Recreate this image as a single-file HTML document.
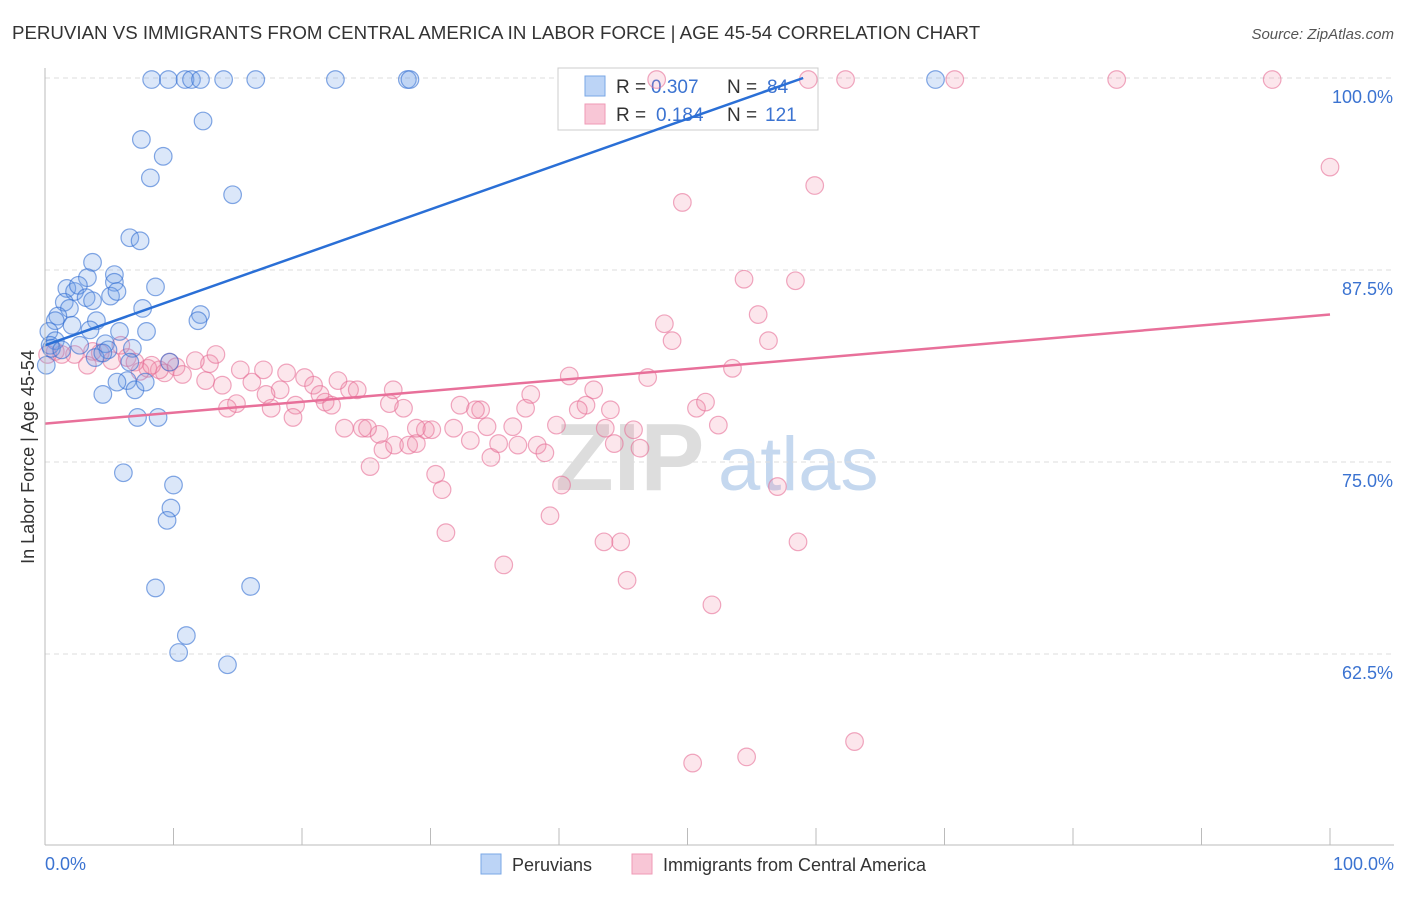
<!DOCTYPE html>
<html><head><meta charset="utf-8"><style>
body{margin:0;background:#fff;font-family:"Liberation Sans",sans-serif;}
svg text{font-family:"Liberation Sans",sans-serif;}
</style></head><body>
<svg width="1406" height="892" id="chart">
<text x="12" y="39" font-size="18.7" fill="#333">PERUVIAN VS IMMIGRANTS FROM CENTRAL AMERICA IN LABOR FORCE | AGE 45-54 CORRELATION CHART</text>
<text x="1394" y="39" font-size="15" fill="#555" text-anchor="end" font-style="italic">Source: ZipAtlas.com</text>
<text x="34" y="457" font-size="18" fill="#333" text-anchor="middle" transform="rotate(-90 34 457)">In Labor Force | Age 45-54</text>
<g><text x="555" y="490" font-size="96" font-family="Liberation Serif" fill="#ddd" font-weight="bold">ZIP</text><text x="718" y="490" font-size="76" fill="#c5d8ef">atlas</text></g>
<g id="grid"></g>
<g>
<rect x="558" y="68" width="260" height="62" fill="#fff" stroke="#ccc"/>
<rect x="585" y="76" width="20" height="20" fill="#bcd4f6" stroke="#7aa7e6"/>
<rect x="585" y="104" width="20" height="20" fill="#f8c6d6" stroke="#ef9ab6"/>
<text x="616" y="93" font-size="19" fill="#333">R =</text><text x="651" y="93" font-size="19" fill="#3b73d1">0.307</text>
<text x="727" y="93" font-size="19" fill="#333">N =</text><text x="767" y="93" font-size="19" fill="#3b73d1">84</text>
<text x="616" y="121" font-size="19" fill="#333">R =</text><text x="656" y="121" font-size="19" fill="#3b73d1">0.184</text>
<text x="727" y="121" font-size="19" fill="#333">N =</text><text x="765" y="121" font-size="19" fill="#3b73d1">121</text>
</g>
<g id="marks"></g><g id="lines"></g>
<line x1="45" y1="68" x2="45" y2="845" stroke="#bbb"/>
<line x1="45" y1="845" x2="1394" y2="845" stroke="#bbb"/>
<text x="45" y="870" font-size="18" fill="#3b73d1">0.0%</text>
<text x="1394" y="870" font-size="18" fill="#3b73d1" text-anchor="end">100.0%</text>
<g>
<rect x="481" y="854" width="20" height="20" fill="#bcd4f6" stroke="#7aa7e6"/>
<text x="512" y="871" font-size="18" fill="#333">Peruvians</text>
<rect x="632" y="854" width="20" height="20" fill="#f8c6d6" stroke="#ef9ab6"/>
<text x="663" y="871" font-size="18" fill="#333">Immigrants from Central America</text>
</g>
</svg>
<script>
const yTicks=[100,87.5,75,62.5];
const yTickLabels=["100.0%","87.5%","75.0%","62.5%"];
const xTicks=[0,10,20,30,40,50,60,70,80,90,100];
const blueX=[8.3,9.6,10.9,11.4,12.1,13.9,16.4,22.6,28.2,28.4,69.3,12.3,7.5,9.2,8.2,14.6,6.6,7.4,3.7,3.3,5.4,5.4,1.7,2.3,2.6,3.2,3.7,5.1,5.6,8.6,1.5,1.9,1.0,0.8,4.0,12.1,11.9,2.1,3.5,5.8,7.9,7.6,0.3,0.8,0.4,0.5,4.7,4.9,3.9,6.8,6.6,6.4,5.6,7.0,7.8,4.5,7.2,8.8,9.7,6.1,10.0,9.8,9.5,8.6,16.0,11.0,10.4,14.2,0.1,2.7,1.3,4.5];
const blueY=[99.9,99.9,99.9,99.9,99.9,99.9,99.9,99.9,99.9,99.9,99.9,97.2,96.0,94.9,93.5,92.4,89.6,89.4,88.0,87.0,87.2,86.7,86.3,86.1,86.5,85.7,85.5,85.8,86.1,86.4,85.4,85.0,84.5,84.2,84.2,84.6,84.2,83.9,83.6,83.5,83.5,85.0,83.5,82.9,82.6,82.4,82.7,82.3,81.8,82.4,81.5,80.3,80.2,79.7,80.2,79.4,77.9,77.9,81.5,74.3,73.5,72.0,71.2,66.8,66.9,63.7,62.6,61.8,81.3,82.6,82.3,82.1];
const pinkX=[47.6,59.4,62.3,70.8,83.4,95.5,100,59.9,49.6,54.4,58.4,55.5,48.2,48.8,56.3,53.5,46.9,40.8,42.7,37.8,37.4,42.1,41.5,50.7,51.4,33.9,32.3,27.9,26.8,23.7,24.3,22.8,20.2,18.8,20.9,18.3,17.2,16.1,14.9,14.2,17.6,19.5,21.8,22.3,21.4,13.8,15.2,12.5,12.8,13.3,11.7,9.7,10.2,9.3,8.9,10.7,8.0,7.4,6.4,5.2,4.3,3.7,2.3,1.3,0.8,0.2,3.3,5.9,7.0,8.3,17.0,19.3,23.3,24.7,26.0,26.3,27.2,28.3,28.9,29.6,30.1,31.8,33.1,33.5,34.4,34.7,35.3,36.8,36.4,38.3,38.9,39.8,40.2,39.3,31.2,30.9,30.4,25.3,35.7,43.5,44.8,45.3,44.3,45.8,46.3,43.6,51.9,52.4,57.0,58.6,50.4,54.6,63.0,44.0,25.1,28.9,27.1];
const pinkY=[99.9,99.9,99.9,99.9,99.9,99.9,94.2,93.0,91.9,86.9,86.8,84.6,84.0,82.9,82.9,81.1,80.5,80.6,79.7,79.4,78.5,78.7,78.4,78.5,78.9,78.4,78.7,78.5,78.8,79.7,79.7,80.3,80.5,80.8,80.0,79.7,79.4,80.2,78.8,78.5,78.5,78.7,78.9,78.7,79.4,80.0,81.0,80.3,81.4,82.0,81.6,81.5,81.2,80.8,81.0,80.7,81.1,80.9,81.8,81.6,82.1,82.2,82.0,82.0,82.2,82.0,81.3,82.6,81.5,81.3,81.0,77.9,77.2,77.2,76.8,75.8,76.1,76.1,76.2,77.1,77.1,77.2,76.4,78.4,77.3,75.3,76.2,76.1,77.3,76.1,75.6,77.4,73.5,71.5,70.4,73.2,74.2,74.7,68.3,69.8,69.8,67.3,76.2,77.1,75.9,77.2,65.7,77.4,73.4,69.8,55.4,55.8,56.8,78.4,77.2,77.2,79.7];
const blueLine=[[0,82.6],[59,100]];
const pinkLine=[[0,77.5],[100,84.6]];
const NS="http://www.w3.org/2000/svg";
const X=v=>45+v*12.85, Y=v=>78+(100-v)*15.36;
function mk(t,a,p){const e=document.createElementNS(NS,t);for(const k in a)e.setAttribute(k,a[k]);document.getElementById(p).appendChild(e);return e;}
yTicks.forEach((t,i)=>{
 const l=mk('line',{x1:45,x2:1394,y1:Y(t),y2:Y(t),stroke:'#ddd','stroke-dasharray':'5,4'},'grid');
 
 
 const tx=mk('text',{x:1393,y:Y(t)+25,'font-size':18,fill:'#3b73d1','text-anchor':'end'},'grid');
 tx.textContent=yTickLabels[i];
 
 
});
xTicks.forEach(t=>{
 const l=mk('line',{x1:X(t),x2:X(t),y1:828,y2:845,stroke:'#bbb'},'grid');
 
 
});
pinkX.forEach((x,i)=>{
 const c=mk('circle',{cx:X(x),cy:Y(pinkY[i]),r:8.8,fill:'rgba(240,140,170,0.22)',stroke:'rgba(230,110,150,0.6)','stroke-width':1.2},'marks');
 
 
});
blueX.forEach((x,i)=>{
 const c=mk('circle',{cx:X(x),cy:Y(blueY[i]),r:8.8,fill:'rgba(110,160,230,0.25)',stroke:'rgba(50,110,210,0.6)','stroke-width':1.2},'marks');
 
 
});
const bl=mk('line',{x1:X(blueLine[0][0]),y1:Y(blueLine[0][1]),x2:X(blueLine[1][0]),y2:Y(blueLine[1][1]),stroke:'#2a6fd6','stroke-width':2.5},'lines');


const pl=mk('line',{x1:X(pinkLine[0][0]),y1:Y(pinkLine[0][1]),x2:X(pinkLine[1][0]),y2:Y(pinkLine[1][1]),stroke:'#e8709a','stroke-width':2.5},'lines');


</script>
</body></html>
